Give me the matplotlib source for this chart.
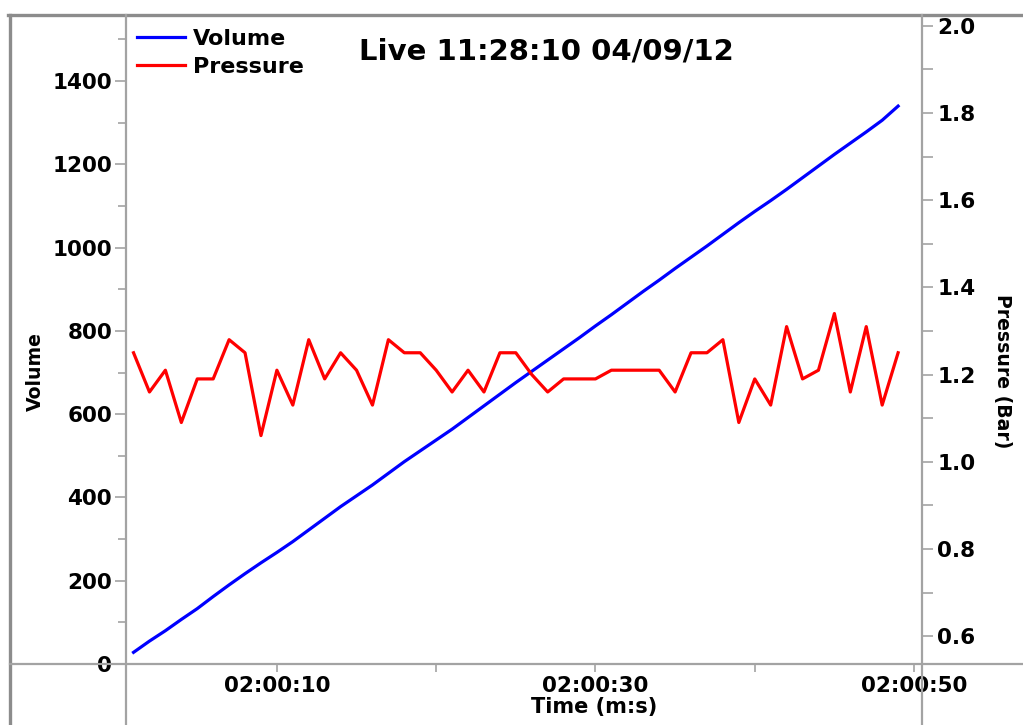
import matplotlib.pyplot as plt
from matplotlib.lines import Line2D
from matplotlib.ticker import FixedLocator, MultipleLocator

# one sample per second, seconds after 02:00:00
seconds = list(range(1, 50))
volume = [28, 55, 80, 107, 133, 162, 190, 217, 243, 268,
          294, 322, 350, 378, 404, 430, 458, 486, 512, 538,
          564, 592, 620, 648, 676, 703, 730, 757, 784, 812,
          839, 867, 895, 922, 950, 977, 1004, 1032, 1060, 1087,
          1113, 1140, 1168, 1196, 1224, 1251, 1278, 1306, 1340]
pressure = [1.25, 1.16, 1.21, 1.09, 1.19, 1.19, 1.28, 1.25, 1.06, 1.21,
            1.13, 1.28, 1.19, 1.25, 1.21, 1.13, 1.28, 1.25, 1.25, 1.21,
            1.16, 1.21, 1.16, 1.25, 1.25, 1.20, 1.16, 1.19, 1.19, 1.19,
            1.21, 1.21, 1.21, 1.21, 1.16, 1.25, 1.25, 1.28, 1.09, 1.19,
            1.13, 1.31, 1.19, 1.21, 1.34, 1.16, 1.31, 1.13, 1.25]

time_ticks = [10, 20, 30, 40, 50]
time_labels = ["02:00:10", "", "02:00:30", "", "02:00:50"]
volume_ticks = [0, 200, 400, 600, 800, 1000, 1200, 1400]
pressure_ticks = [0.6, 0.8, 1.0, 1.2, 1.4, 1.6, 1.8, 2.0]

W, H = 1023, 725
GRID = "#a3a3a3"
FRAME = "#8c8c8c"


def fx(px):
    return px / W


def fy(py):
    return 1 - py / H


plt.rcParams["font.family"] = "DejaVu Sans"
plt.rcParams["font.weight"] = "bold"

fig = plt.figure(figsize=(W / 100, H / 100), dpi=100)
ax = fig.add_axes([fx(126), fy(664), fx(922) - fx(126), fy(14.5) - fy(664)])
ax2 = ax.twinx()

l1, = ax.plot(seconds, volume, color="#0000ff", lw=2.3, label="Volume")
l2, = ax2.plot(seconds, pressure, color="#ff0000", lw=2.3, label="Pressure")

ax.set_xlim(0.527, 50.5)
ax.set_ylim(0, 1560)
ax2.set_ylim(0.536, 2.026)

for a in (ax, ax2):
    for s in a.spines.values():
        s.set_visible(False)

ax.xaxis.set_major_locator(FixedLocator(time_ticks))
ax.set_xticklabels(time_labels)
ax.set_yticks(volume_ticks)
ax.yaxis.set_minor_locator(MultipleLocator(100))
ax2.set_yticks(pressure_ticks)
ax2.set_yticklabels([f"{v:.1f}" for v in pressure_ticks])
ax2.yaxis.set_minor_locator(MultipleLocator(0.1))

ax.tick_params(axis="x", length=6, width=1.2, color=GRID, pad=3, labelsize=15.5)
ax.tick_params(axis="y", which="major", length=8, width=1.2, color=GRID, pad=2, labelsize=15.5)
ax.tick_params(axis="y", which="minor", length=6, width=1.2, color=GRID)
ax2.tick_params(axis="y", which="major", length=8, width=1.2, color=GRID, pad=3, labelsize=15.5)
ax2.tick_params(axis="y", which="minor", length=8, width=1.2, color=GRID)

# outer window frame and axis lines running past the plot area
fig.add_artist(Line2D([fx(8), 1], [fy(14.5), fy(14.5)], color=FRAME, lw=2.4))
fig.add_artist(Line2D([fx(10), fx(10)], [fy(14.5), 0], color=FRAME, lw=2.4))
fig.add_artist(Line2D([fx(126), fx(126)], [fy(14.5), 0], color=GRID, lw=1.6))
fig.add_artist(Line2D([fx(922), fx(922)], [fy(14.5), 0], color=GRID, lw=1.6))
fig.add_artist(Line2D([fx(10), 1], [fy(664), fy(664)], color=GRID, lw=1.6))

fig.legend(handles=[l1, l2], loc="upper left", bbox_to_anchor=(fx(137), fy(29)),
           frameon=False, fontsize=16, borderpad=0, borderaxespad=0,
           handlelength=2.15, handletextpad=0.35, labelspacing=0.36)

fig.text(fx(546), fy(59.5), "Live 11:28:10 04/09/12", fontsize=21,
         ha="center", va="baseline")
fig.text(fx(594), fy(713), "Time (m:s)", fontsize=15, ha="center", va="baseline")
fig.text(fx(35), fy(372), "Volume", fontsize=13.6, rotation=90,
         ha="center", va="center")
fig.text(fx(1003), fy(371), "Pressure (Bar)", fontsize=13.6, rotation=270,
         ha="center", va="center")

fig.savefig("out.png", dpi=100)
